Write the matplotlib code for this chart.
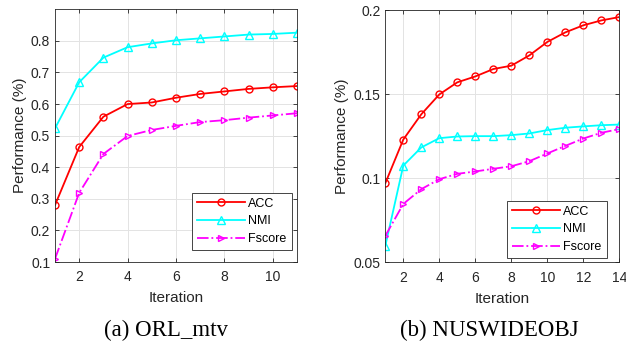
import matplotlib
matplotlib.use('Agg')
import matplotlib.pyplot as plt

plt.rcParams['font.family'] = ['Liberation Sans', 'DejaVu Sans']

# (a) ORL_mtv
iters_a = list(range(1, 12))
acc_a = [0.28, 0.464, 0.56, 0.60, 0.605, 0.62, 0.632, 0.64, 0.648, 0.653, 0.657]
nmi_a = [0.523, 0.669, 0.747, 0.78, 0.792, 0.802, 0.808, 0.814, 0.82, 0.822, 0.826]
fscore_a = [0.11, 0.319, 0.442, 0.499, 0.518, 0.531, 0.543, 0.549, 0.557, 0.564, 0.571]

# (b) NUSWIDEOBJ
iters_b = list(range(1, 15))
acc_b = [0.097, 0.123, 0.138, 0.1498, 0.157, 0.1605, 0.1649, 0.1669, 0.173, 0.181,
         0.1867, 0.1909, 0.1938, 0.1958]
nmi_b = [0.0597, 0.1075, 0.1183, 0.1238, 0.1248, 0.125, 0.125, 0.1256, 0.1266, 0.1286,
         0.130, 0.1308, 0.1315, 0.1319]
fscore_b = [0.0657, 0.0847, 0.0935, 0.0994, 0.1026, 0.104, 0.1056, 0.1071, 0.1101, 0.1147,
            0.1192, 0.1236, 0.127, 0.1292]

edge = '#262626'

fig = plt.figure(figsize=(6.26, 3.45), dpi=100)
ax1 = fig.add_axes([55 / 626, 1 - 262 / 345, 242 / 626, 252.7 / 345])
ax2 = fig.add_axes([385.3 / 626, 1 - 262.3 / 345, 234 / 626, 252.3 / 345])


def draw(ax, x, acc, nmi, fs):
    ax.plot(x, acc, '-o', color='#ff0000', lw=1.3, ms=5, mfc='none', mew=1.0, label='ACC')
    ax.plot(x, nmi, '-^', color='#00ffff', lw=1.3, ms=5.5, mfc='none', mew=1.0, label='NMI')
    ax.plot(x, fs, '-.>', color='#ff00ff', lw=1.3, ms=5, mfc='none', mew=1.0, label='Fscore')
    ax.grid(True, color='#e3e3e3', lw=0.7)
    ax.set_axisbelow(True)
    ax.tick_params(direction='in', top=True, right=True, labelsize=10,
                   colors=edge, length=3, width=0.6)
    ax.tick_params(axis='x', pad=6)
    for s in ax.spines.values():
        s.set_color(edge)
        s.set_linewidth(0.6)
    ax.set_xlabel('Iteration', fontsize=11, color=edge, labelpad=5)
    ax.set_ylabel('Performance (%)', fontsize=11, color=edge, labelpad=3)


def legend(ax, anchor):
    leg = ax.legend(loc='lower right', bbox_to_anchor=anchor, borderaxespad=0,
                    fontsize=9, fancybox=False, edgecolor=edge, framealpha=1,
                    handlelength=3.9, handletextpad=0.25, labelspacing=0.45,
                    borderpad=0.4)
    leg.get_frame().set_linewidth(0.6)


draw(ax1, iters_a, acc_a, nmi_a, fscore_a)
ax1.set_xlim(1, 11)
ax1.set_ylim(0.1, 0.9)
ax1.set_xticks([2, 4, 6, 8, 10])
ax1.set_yticks([0.1, 0.2, 0.3, 0.4, 0.5, 0.6, 0.7, 0.8])
ax1.set_yticklabels(['0.1', '0.2', '0.3', '0.4', '0.5', '0.6', '0.7', '0.8'])
legend(ax1, (0.978, 0.047))

draw(ax2, iters_b, acc_b, nmi_b, fscore_b)
ax2.set_xlim(1, 14)
ax2.set_ylim(0.05, 0.2)
ax2.set_xticks([2, 4, 6, 8, 10, 12, 14])
ax2.set_yticks([0.05, 0.1, 0.15, 0.2])
ax2.set_yticklabels(['0.05', '0.1', '0.15', '0.2'])
legend(ax2, (0.946, 0.017))

fig.text(166 / 626, 1 - 330 / 345, '(a) ORL_mtv', ha='center', va='center',
         fontsize=16.5, family='Liberation Serif')
fig.text(489 / 626, 1 - 330 / 345, '(b) NUSWIDEOBJ', ha='center', va='center',
         fontsize=16.5, family='Liberation Serif')

fig.savefig('out.png', dpi=100)
